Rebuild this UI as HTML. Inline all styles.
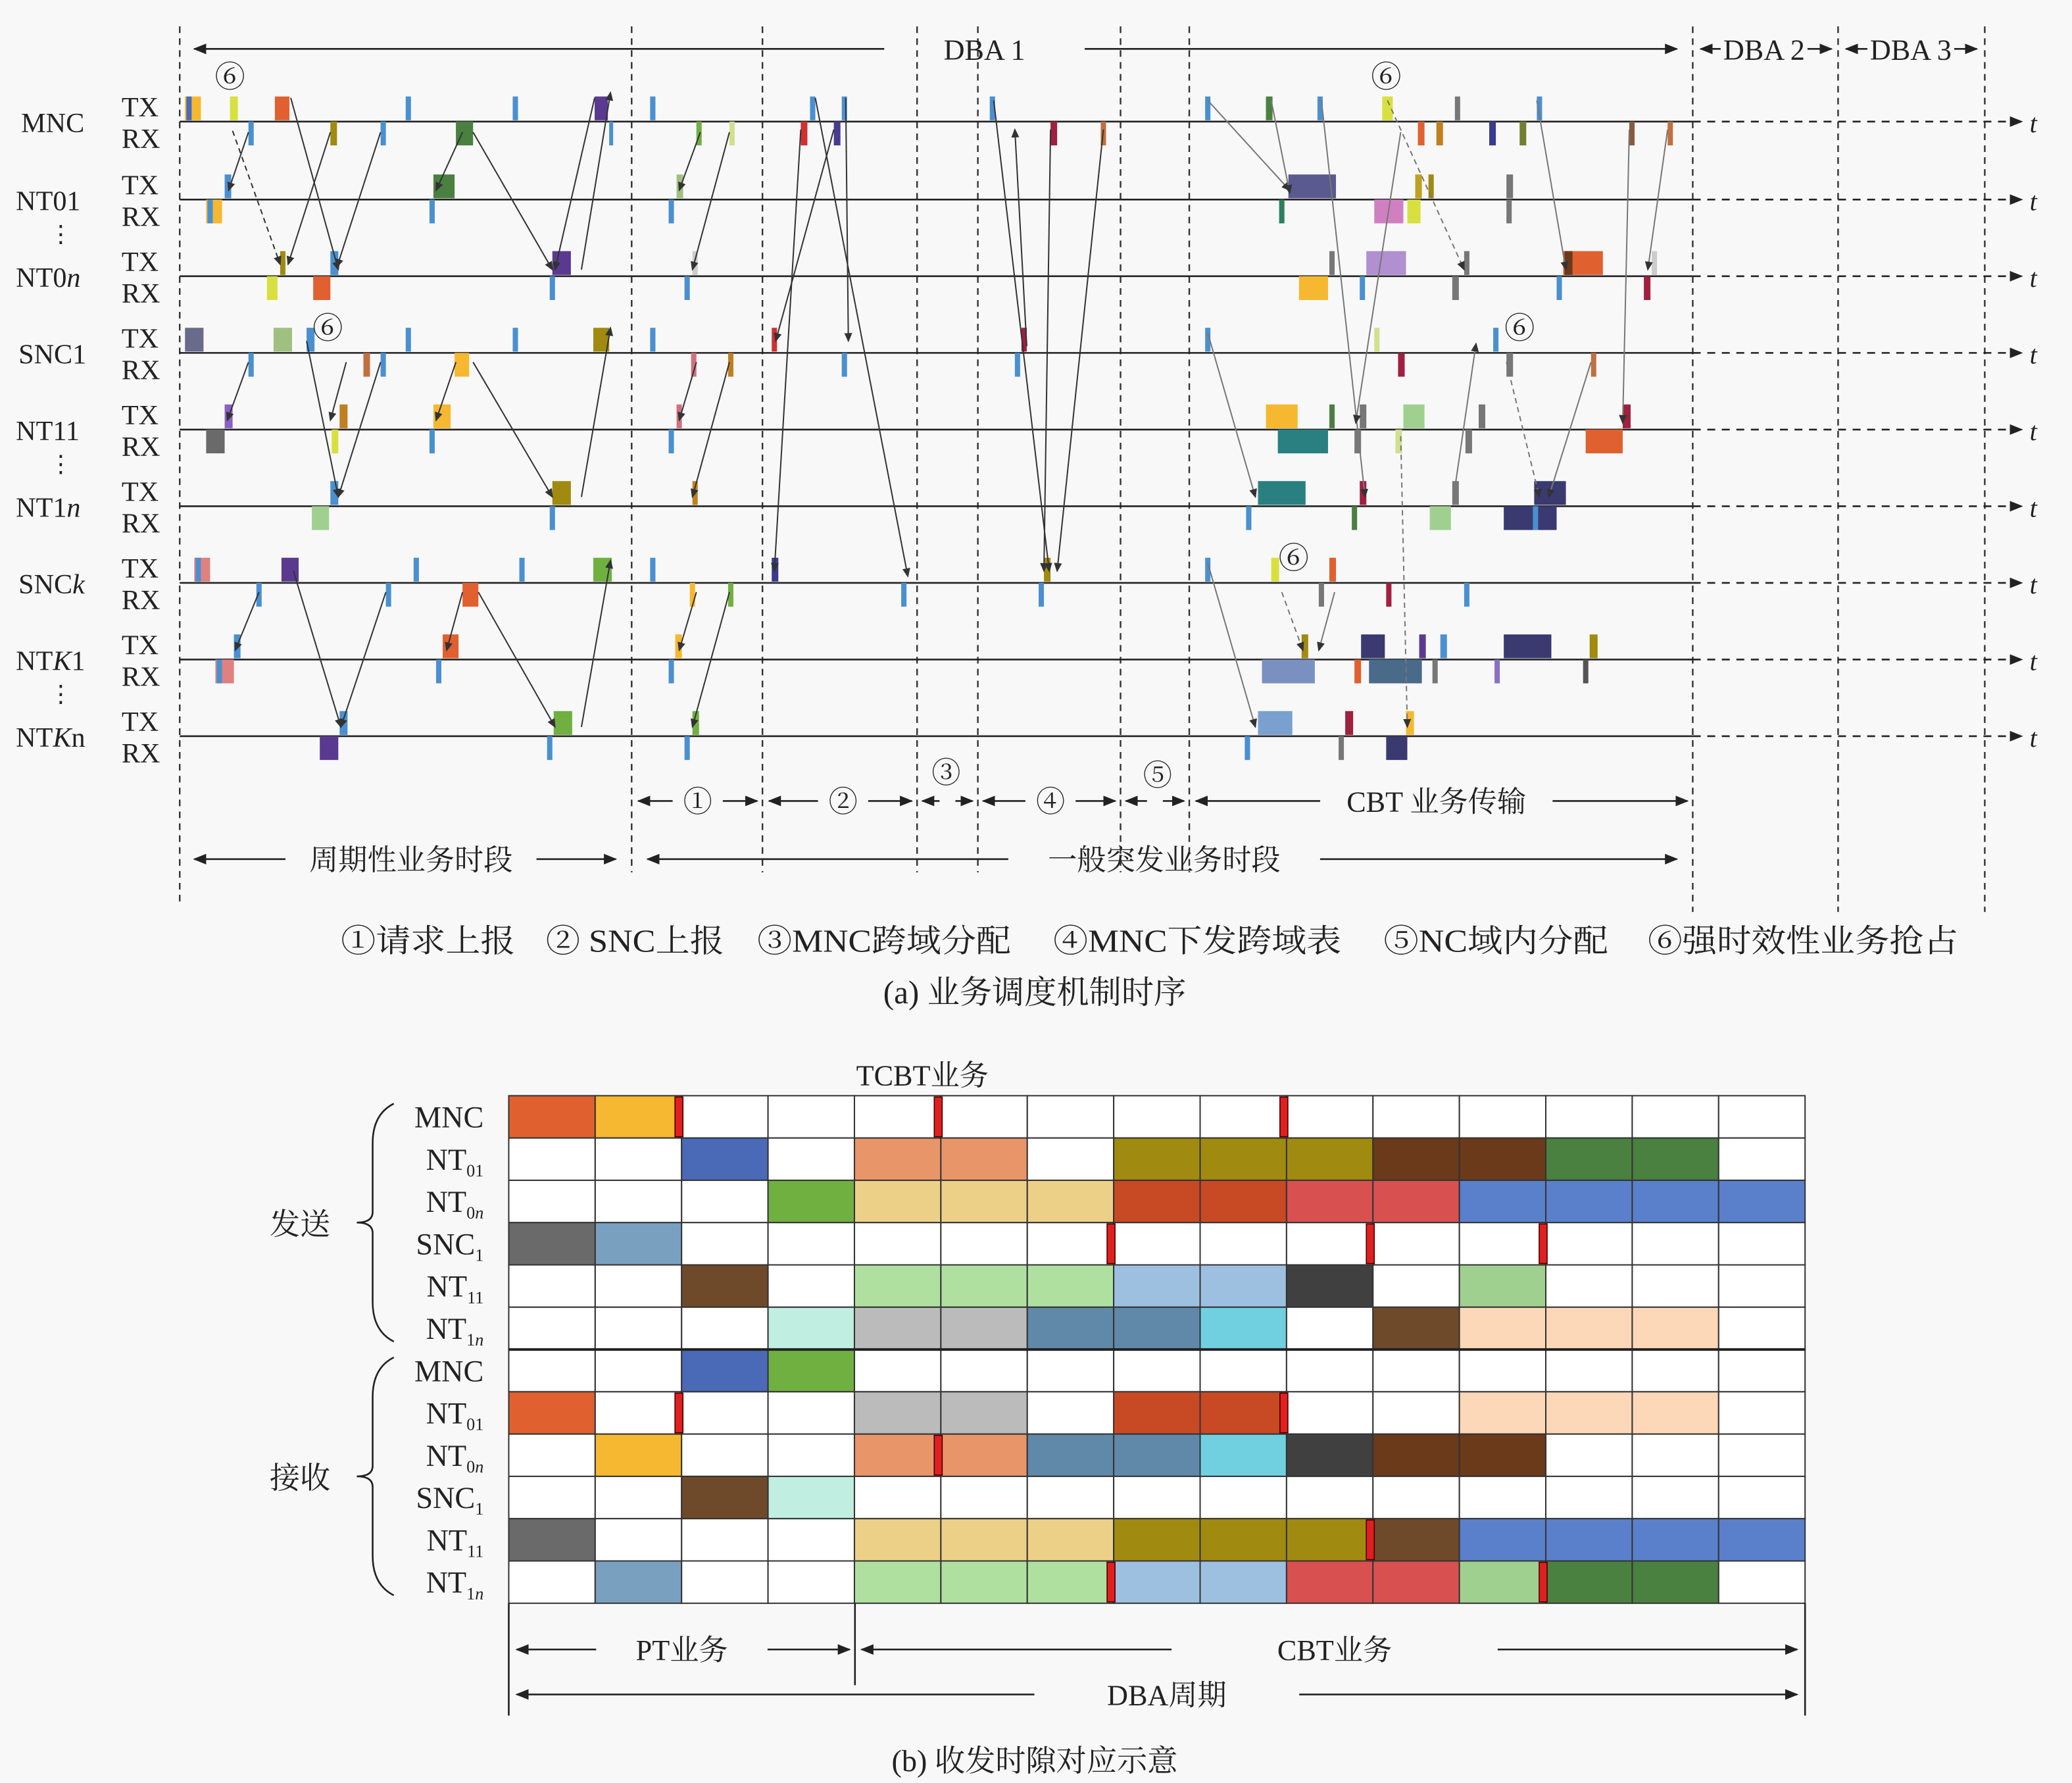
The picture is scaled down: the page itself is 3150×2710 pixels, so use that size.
<!DOCTYPE html>
<html><head><meta charset="utf-8">
<style>
html,body{margin:0;padding:0;background:#f8f8f8;}
svg{display:block;}
text{font-family:"Liberation Serif","Noto Serif CJK SC","Noto Sans CJK SC",serif;fill:#222;}
</style></head>
<body>
<svg id="fig" width="3150" height="2710" viewBox="0 0 1568 1349" xmlns="http://www.w3.org/2000/svg">
<defs>
<marker id="ah" markerWidth="10" markerHeight="8" refX="9" refY="4" orient="auto" markerUnits="userSpaceOnUse"><path d="M0,0 L10,4 L0,8 z" fill="#222"/></marker>
<marker id="ahs" markerWidth="7" markerHeight="6" refX="6" refY="3" orient="auto" markerUnits="userSpaceOnUse"><path d="M0,0 L7,3 L0,6 z" fill="#333"/></marker>
</defs>
<g id="partA"></g>
<g id="partB"></g>
</svg>
<script>
const NS="http://www.w3.org/2000/svg";
// ---- Part (a) data ----
const nodeNames=["MNC","NT01","NT0n","SNC1","NT11","NT1n","SNCk","NTK1","NTKn"];
const lineYs=[92,151,209,267,325,383,441,499,557];
const phaseXs=[136,478,577,694,740,848,900,1281,1391,1502];
// pulses: [node, 0=TX/1=RX, x, width, color]
const pulses=[
[0,0,140,12,"#f5b830"],[0,0,141,4,"#4a6ab8"],[0,0,174,6,"#d8e040"],[0,0,208,11,"#e06030"],[0,0,307,4,"#4a90d0"],[0,0,388,4,"#4a90d0"],[0,0,450,10,"#5a3a90"],
[0,1,188,4,"#4a90d0"],[0,1,250,5,"#a08a10"],[0,1,288,4,"#4a90d0"],[0,1,345,13,"#4a8040"],[0,1,461,3,"#4a90d0"],
[0,0,492,4,"#4a90d0"],[0,0,613,4,"#4a90d0"],[0,0,637,4,"#4a90d0"],[0,0,749,4,"#4a90d0"],[0,0,912,4,"#4a90d0"],[0,0,958,5,"#4a8040"],[0,0,997,4,"#4a90d0"],[0,0,1046,8,"#d8e040"],[0,0,1101,4,"#777"],[0,0,1163,4,"#4a90d0"],
[0,1,527,4,"#70b040"],[0,1,552,4,"#d0e090"],[0,1,606,5,"#d03030"],[0,1,631,5,"#4a3a90"],[0,1,795,5,"#a02040"],[0,1,833,4,"#c07040"],[0,1,1073,5,"#e06030"],[0,1,1087,5,"#c08020"],[0,1,1127,5,"#3a3a90"],[0,1,1150,5,"#708030"],[0,1,1233,4,"#8a5a40"],[0,1,1262,4,"#c07040"],
[1,0,170,5,"#4a90d0"],[1,0,328,16,"#4a8040"],[1,0,512,5,"#a0c080"],[1,0,975,36,"#5a5a90"],[1,0,1071,5,"#c0a020"],[1,0,1081,4,"#a08a10"],[1,0,1140,5,"#777"],
[1,1,156,12,"#f5b830"],[1,1,157,4,"#4a90d0"],[1,1,325,4,"#4a90d0"],[1,1,506,4,"#4a90d0"],[1,1,968,4,"#2a8060"],[1,1,1040,22,"#d080c0"],[1,1,1065,10,"#d8e040"],[1,1,1140,4,"#777"],
[2,0,212,4,"#a08a10"],[2,0,250,6,"#4a90d0"],[2,0,418,14,"#5a3a90"],[2,0,524,4,"#ccc"],[2,0,1006,4,"#777"],[2,0,1034,30,"#b090d0"],[2,0,1108,4,"#777"],[2,0,1183,30,"#e06030"],[2,0,1184,6,"#6a3a1a"],[2,0,1250,4,"#ccc"],
[2,1,202,8,"#d8e040"],[2,1,237,13,"#e06030"],[2,1,416,4,"#4a90d0"],[2,1,518,4,"#4a90d0"],[2,1,983,22,"#f5b830"],[2,1,1029,4,"#4a90d0"],[2,1,1099,5,"#777"],[2,1,1178,4,"#4a90d0"],[2,1,1244,5,"#a02040"],
[3,0,140,14,"#6a6a8a"],[3,0,207,14,"#a0c080"],[3,0,232,6,"#4a90d0"],[3,0,307,4,"#4a90d0"],[3,0,388,4,"#4a90d0"],[3,0,449,12,"#a08a10"],[3,0,492,4,"#4a90d0"],[3,0,584,4,"#d03030"],[3,0,773,4,"#a02040"],[3,0,912,4,"#4a90d0"],[3,0,1040,4,"#d0e090"],[3,0,1130,4,"#4a90d0"],
[3,1,188,4,"#4a90d0"],[3,1,275,5,"#c07040"],[3,1,288,4,"#4a90d0"],[3,1,344,11,"#f5b830"],[3,1,523,4,"#d07080"],[3,1,551,4,"#c08020"],[3,1,637,4,"#4a90d0"],[3,1,768,4,"#4a90d0"],[3,1,1058,5,"#a02040"],[3,1,1140,5,"#777"],[3,1,1204,4,"#c07040"],
[4,0,170,6,"#8a60c0"],[4,0,257,6,"#c08020"],[4,0,328,13,"#f5b830"],[4,0,512,4,"#d07080"],[4,0,958,24,"#f5b830"],[4,0,1006,4,"#4a8040"],[4,0,1029,5,"#777"],[4,0,1062,16,"#a0d090"],[4,0,1119,5,"#777"],[4,0,1228,6,"#a02040"],
[4,1,156,14,"#6a6a6a"],[4,1,251,5,"#d8e040"],[4,1,325,4,"#4a90d0"],[4,1,506,4,"#4a90d0"],[4,1,967,38,"#2a8080"],[4,1,1025,5,"#777"],[4,1,1056,5,"#d0e090"],[4,1,1109,5,"#777"],[4,1,1200,28,"#e06030"],
[5,0,250,6,"#4a90d0"],[5,0,418,14,"#a08a10"],[5,0,524,4,"#c08020"],[5,0,952,36,"#2a8080"],[5,0,1029,5,"#a02040"],[5,0,1099,5,"#777"],[5,0,1161,24,"#3a3a70"],
[5,1,236,13,"#a0d090"],[5,1,416,4,"#4a90d0"],[5,1,943,4,"#4a90d0"],[5,1,1023,4,"#4a8040"],[5,1,1082,16,"#a0d090"],[5,1,1138,40,"#3a3a70"],[5,1,1160,4,"#4a90d0"],
[6,0,147,12,"#e08080"],[6,0,148,4,"#4a90d0"],[6,0,213,13,"#5a3a90"],[6,0,313,4,"#4a90d0"],[6,0,393,4,"#4a90d0"],[6,0,449,14,"#70b040"],[6,0,492,4,"#4a90d0"],[6,0,584,5,"#3a3a90"],[6,0,790,5,"#a08a10"],[6,0,912,4,"#4a90d0"],[6,0,962,6,"#d8e040"],[6,0,1006,5,"#e06030"],
[6,1,194,4,"#4a90d0"],[6,1,292,4,"#4a90d0"],[6,1,350,12,"#e06030"],[6,1,522,4,"#f5b830"],[6,1,551,4,"#70b040"],[6,1,682,4,"#4a90d0"],[6,1,786,4,"#4a90d0"],[6,1,998,4,"#777"],[6,1,1049,4,"#a02040"],[6,1,1108,4,"#4a90d0"],
[7,0,177,5,"#4a90d0"],[7,0,335,12,"#e06030"],[7,0,511,5,"#f5b830"],[7,0,985,5,"#a08a10"],[7,0,1030,18,"#3a3a70"],[7,0,1074,5,"#5a3a90"],[7,0,1090,5,"#4a90d0"],[7,0,1138,36,"#3a3a70"],[7,0,1203,6,"#a08a10"],
[7,1,163,14,"#e08080"],[7,1,164,4,"#4a90d0"],[7,1,330,4,"#4a90d0"],[7,1,506,4,"#4a90d0"],[7,1,955,40,"#7a90c0"],[7,1,1025,5,"#e06030"],[7,1,1036,40,"#4a6a8a"],[7,1,1084,4,"#777"],[7,1,1131,4,"#8a70c0"],[7,1,1198,4,"#555"],
[8,0,257,6,"#4a90d0"],[8,0,419,14,"#70b040"],[8,0,524,5,"#70b040"],[8,0,952,26,"#7aa0d0"],[8,0,1018,6,"#a02040"],[8,0,1064,6,"#f5b830"],
[8,1,242,14,"#5a3a90"],[8,1,414,4,"#4a90d0"],[8,1,518,4,"#4a90d0"],[8,1,942,4,"#4a90d0"],[8,1,1013,4,"#777"],[8,1,1049,16,"#3a3a70"]
];
// arrows: [x1,y1,x2,y2,dashed]
const arrows=[
[176,99,212,200,1],[188,100,173,144,0],[220,74,256,204,0],[250,100,218,200,0],[288,100,255,202,0],[350,100,330,144,0],[358,100,418,204,0],[450,74,420,204,0],[440,204,462,70,0],
[262,274,250,318,0],[232,258,256,376,0],[188,274,172,318,0],[288,274,256,376,0],[358,274,418,376,0],[440,376,462,248,0],[345,274,330,318,0],
[196,448,178,492,0],[222,432,258,550,0],[292,448,258,550,0],[350,448,338,492,0],[362,448,420,550,0],[440,550,462,424,0],
[530,100,514,144,0],[552,100,524,204,0],[527,274,514,318,0],[552,274,524,376,0],[527,448,514,492,0],[552,448,524,550,0],
[617,74,687,436,0],[640,74,642,258,0],[606,98,586,432,0],[631,98,587,258,0],[752,76,794,432,0],[777,262,768,98,0],[795,98,790,432,0],[835,98,800,432,0],
[914,76,976,144,0],[962,76,976,146,0],[914,252,950,376,0],[914,426,950,550,0],[1000,76,1033,376,0],[1050,76,1108,204,1],[1060,100,1026,320,0],[1140,274,1165,376,1],[1163,76,1185,204,0],[1204,274,1172,376,0],[1233,98,1228,320,0],[1262,98,1247,204,0],[970,448,986,492,1],[1010,448,998,492,0],[1060,330,1065,550,1],[1100,376,1117,260,0]
];
// ---- Part (b) data ----
const gridRows=["MNC","NT01","NT0n","SNC1","NT11","NT1n","MNC","NT01","NT0n","SNC1","NT11","NT1n"];
const cellFills=[
["#e06030","#f5b830","","","","","","","","","","","","",""],
["","","#4a6ab8","","#e8956a","#e8956a","","#a08a10","#a08a10","#a08a10","#6a3a1a","#6a3a1a","#4a8040","#4a8040",""],
["","","","#70b040","#ecd088","#ecd088","#ecd088","#c84a24","#c84a24","#d85050","#d85050","#5a80cc","#5a80cc","#5a80cc","#5a80cc"],
["#6a6a6a","#7aa0c0","","","","","","","","","","","","",""],
["","","#6e4a2a","","#b0e0a0","#b0e0a0","#b0e0a0","#9ec0e0","#9ec0e0","#404040","","#a0d090","","",""],
["","","","#c0eee0","#bbbbbb","#bbbbbb","#6088a8","#6088a8","#70d0e0","","#6e4a2a","#fcd8b8","#fcd8b8","#fcd8b8",""],
["","","#4a6ab8","#70b040","","","","","","","","","","",""],
["#e06030","","","","#bbbbbb","#bbbbbb","","#c84a24","#c84a24","","","#fcd8b8","#fcd8b8","#fcd8b8",""],
["","#f5b830","","","#e8956a","#e8956a","#6088a8","#6088a8","#70d0e0","#404040","#6a3a1a","#6a3a1a","","",""],
["","","#6e4a2a","#c0eee0","","","","","","","","","","",""],
["#6a6a6a","","","","#ecd088","#ecd088","#ecd088","#a08a10","#a08a10","#a08a10","#6e4a2a","#5a80cc","#5a80cc","#5a80cc","#5a80cc"],
["","#7aa0c0","","","#b0e0a0","#b0e0a0","#b0e0a0","#9ec0e0","#9ec0e0","#d85050","#d85050","#a0d090","#4a8040","#4a8040",""]
];
// red preemption markers: [row, slot boundary]
const redMarks=[[0,2],[0,5],[0,9],[3,7],[3,10],[3,12],[7,2],[7,9],[8,5],[10,10],[11,7],[11,12]];

function el(tag,attrs,parent,txt){const e=document.createElementNS(NS,tag);for(const k in attrs)e.setAttribute(k,attrs[k]);if(txt!==undefined)e.textContent=txt;parent.appendChild(e);return e;}
const A=document.getElementById('partA');
phaseXs.forEach((x,i)=>{const l=el('line',{x1:x,y1:20,x2:x,y2:i==0?686:(i<7?660:690),stroke:'#333','stroke-width':1.2,'stroke-dasharray':'5,4'},A);

});
lineYs.forEach((y,i)=>{
 const g=el('g',{},A);
 
 
 el('line',{x1:136,y1:y,x2:1281,y2:y,stroke:'#222','stroke-width':1.3},g);
 el('line',{x1:1281,y1:y,x2:1530,y2:y,stroke:'#222','stroke-width':1.3,'stroke-dasharray':'6,5','marker-end':'url(#ah)'},g);
 el('text',{x:1536,y:y+8,'font-size':20,'font-style':'italic'},g,'t');
 el('text',{x:92,y:y-4,'font-size':21},g,'TX');
 el('text',{x:92,y:y+20,'font-size':21},g,'RX');
 const nm=nodeNames[i];
 const t=el('text',{x:nm.startsWith('SNC')?14:(nm.startsWith('MNC')?16:12),y:y+8,'font-size':21},g);
 if(nm.endsWith('n')||nm.startsWith('SNCk')||nm.startsWith('NTK')){
   if(nm==='SNCk'){t.textContent='SNC';el('tspan',{'font-style':'italic'},t,'k');}
   else if(nm.startsWith('NTK')){t.textContent='NT';el('tspan',{'font-style':'italic'},t,'K');el('tspan',{},t,nm.slice(3));}
   else {t.textContent=nm.slice(0,-1);el('tspan',{'font-style':'italic'},t,'n');}
 } else t.textContent=nm;
 if(i==1||i==4||i==7){el('text',{x:37,y:y+32,'font-size':18},g,'⋮');}
});
pulses.forEach(p=>{const y=lineYs[p[0]];const r=el('rect',{x:p[2],y:p[1]==0?y-19:y,width:p[3],height:18,fill:p[4]},A);

});
arrows.forEach(a=>{const l=el('line',{x1:a[0],y1:a[1],x2:a[2],y2:a[3],stroke:a[0]>900?'#777':'#333','stroke-width':1,'marker-end':'url(#ahs)'},A);
if(a[4])l.setAttribute('stroke-dasharray','4,3');

});
function span(x1,x2,y,label,lx,fs,parent,name,pad){
 const g=el('g',{},parent);
 
 
 const t=el('text',{x:lx,y:y+8,'font-size':fs,'text-anchor':'middle'},g,label);
 let w=0;
 if(label){try{w=t.getBBox().width;}catch(e){w=label.length*fs;}}
 const p=(pad===undefined?18:pad);
 const hw=label?w/2+p:6;
 el('line',{x1:lx-hw,y1:y,x2:x1+2,y2:y,stroke:'#222','stroke-width':1.3,'marker-end':'url(#ah)'},g);
 el('line',{x1:lx+hw,y1:y,x2:x2-2,y2:y,stroke:'#222','stroke-width':1.3,'marker-end':'url(#ah)'},g);
}
span(145,1271,37,'DBA 1',745,22,A,'dba1-span',45);
span(1285,1388,37,'DBA 2',1335,22,A,'dba2-span',2);
span(1395,1498,37,'DBA 3',1446,22,A,'dba3-span',2);
span(481,575,606,'①',528,22,A,'phase1-span',8);
span(580,692,606,'②',638,22,A,'phase2-span',8);
span(696,738,606,'',717,22,A,'phase3-span');
el('text',{x:716,y:592,'font-size':22,'text-anchor':'middle'},A,'③');
span(742,846,606,'④',795,22,A,'phase4-span',8);
span(850,898,606,'',874,22,A,'phase5-span');
el('text',{x:876,y:594,'font-size':22,'text-anchor':'middle'},A,'⑤');
span(903,1279,606,'CBT 业务传输',1087,22,A,'cbt-span',20);
span(145,468,650,'周期性业务时段',311,22,A,'periodic-span',18);
span(488,1271,650,'一般突发业务时段',881,22,A,'burst-span',30);
[[174,66],[1049,66],[248,256],[1150,256],[979,430]].forEach(p=>{const t=el('text',{x:p[0],y:p[1],'font-size':23,'text-anchor':'middle'},A,'⑥');

});
const legend=['①请求上报','② SNC上报','③MNC跨域分配','④MNC下发跨域表','⑤NC域内分配','⑥强时效性业务抢占'];
const legX=[258,413,573,797,1047,1247];
const legW=[132,135,192,218,170,235];
legend.forEach((s,i)=>{const t=el('text',{x:legX[i],y:720,'font-size':24,textLength:legW[i],lengthAdjust:'spacingAndGlyphs'},A,s);

});
el('text',{x:783,y:759,'font-size':24.5,'text-anchor':'middle'},A,'(a) 业务调度机制时序');

// ---- Part (b) ----
const B=document.getElementById('partB');
const gx0=385,gx1=1366,gy0=829,rh=32,nc=15,cw=(gx1-gx0)/nc;
cellFills.forEach((row,r)=>row.forEach((c,ci)=>{const rc=el('rect',{x:gx0+ci*cw,y:gy0+r*rh,width:cw,height:rh,fill:c||'#fff',stroke:'#333','stroke-width':1},B);

}));
redMarks.forEach(m=>{const rc=el('rect',{x:gx0+m[1]*cw-5,y:gy0+m[0]*rh+1,width:6,height:rh-2,fill:'#e02020',stroke:'#400','stroke-width':0.8},B);

});
el('line',{x1:gx0,y1:gy0+6*rh,x2:gx1,y2:gy0+6*rh,stroke:'#222','stroke-width':2},B);
gridRows.forEach((n,r)=>{const y=gy0+r*rh+24;
 const t=el('text',{x:366,y:y,'font-size':23,'text-anchor':'end'},B);
 
 
 if(n==='MNC'){t.textContent='MNC';}
 else { const base=n.startsWith('SNC')?'SNC':'NT'; const sub=n.slice(base.length);
   t.textContent=base; const s=el('tspan',{'font-size':13,dy:5},t);
   if(sub.endsWith('n')){s.textContent=sub.slice(0,-1);el('tspan',{'font-style':'italic'},s,'n');} else s.textContent=sub;}
});
function brace(y1,y2,label){const m=(y1+y2)/2;
 const p=el('path',{d:`M298,${y1} Q282,${y1+8} 282,${y1+30} L282,${m-8} Q282,${m} 270,${m} Q282,${m} 282,${m+8} L282,${y2-30} Q282,${y2-8} 298,${y2}`,fill:'none',stroke:'#222','stroke-width':1.3},B);
 
 
 el('text',{x:227,y:m+9,'font-size':23,'text-anchor':'middle'},B,label);}
brace(835,1015,'发送');brace(1027,1207,'接收');
el('text',{x:698,y:821,'font-size':22,'text-anchor':'middle'},B,'TCBT业务');
[[385,1213,1298],[1366,1213,1298],[647,1213,1275]].forEach(v=>{const l=el('line',{x1:v[0],y1:v[1],x2:v[0],y2:v[2],stroke:'#222','stroke-width':1.3},B);

});
span(389,645,1248,'PT业务',516,22,B,'pt-span',30);
span(650,1362,1248,'CBT业务',1010,22,B,'cbt-service-span',80);
span(389,1362,1282,'DBA周期',883,22,B,'dba-period-span',55);
el('text',{x:783,y:1340,'font-size':23,'text-anchor':'middle'},B,'(b) 收发时隙对应示意');
</script>
</body></html>
